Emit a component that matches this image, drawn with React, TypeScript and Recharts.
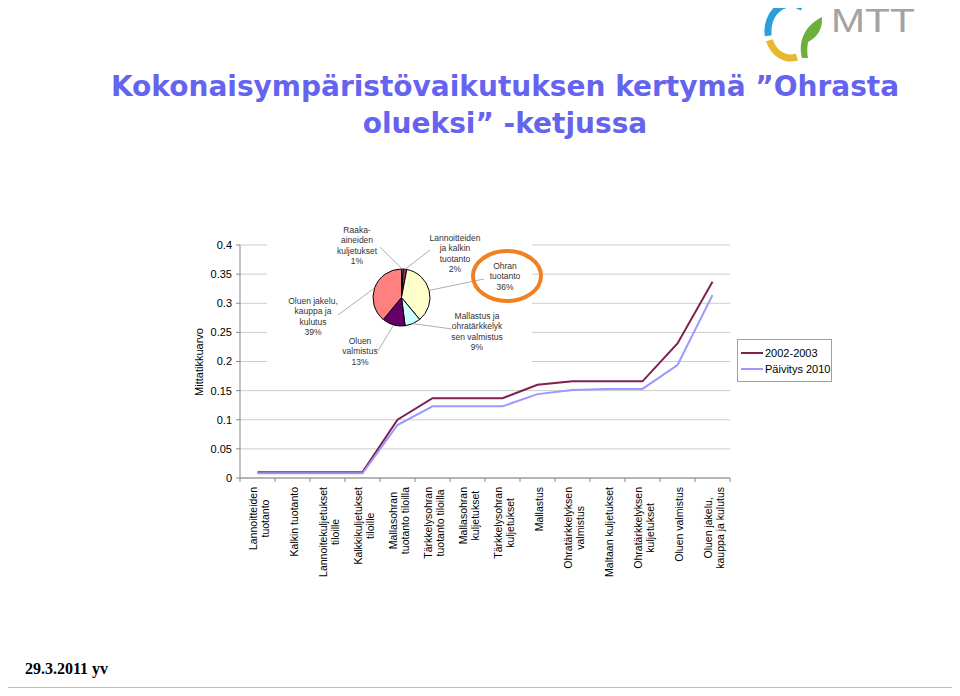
import React from 'react';
import {
  LineChart,
  Line,
  XAxis,
  YAxis,
  CartesianGrid,
  Legend,
  PieChart,
  Pie,
  Cell,
} from 'recharts';

// chain steps (x axis), cumulative impact per step
const steps = [
  'Lannoitteiden\ntuotanto',
  'Kalkin tuotanto',
  'Lannoitekuljetukset\ntiloille',
  'Kalkkikuljetukset\ntiloille',
  'Mallasohran\ntuotanto tiloilla',
  'Tärkkelysohran\ntuotanto tiloilla',
  'Mallasohran\nkuljetukset',
  'Tärkkelysohran\nkuljetukset',
  'Mallastus',
  'Ohratärkkelyksen\nvalmistus',
  'Maltaan kuljetukset',
  'Ohratärkkelyksen\nkuljetukset',
  'Oluen valmistus',
  'Oluen jakelu,\nkauppa ja kulutus',
];
const values2002 = [0.01, 0.01, 0.01, 0.01, 0.1, 0.137, 0.137, 0.137, 0.16, 0.166, 0.166, 0.166, 0.231, 0.337];
const values2010 = [0.008, 0.008, 0.008, 0.008, 0.091, 0.123, 0.123, 0.123, 0.144, 0.151, 0.153, 0.153, 0.194, 0.314];
const yTicks = [0, 0.05, 0.1, 0.15, 0.2, 0.25, 0.3, 0.35, 0.4];

// share of total impact (pie)
const pieNames = [
  'Raaka-\naineiden\nkuljetukset',
  'Lannoitteiden\nja kalkin\ntuotanto',
  'Ohran\ntuotanto',
  'Mallastus ja\nohratärkkelyk\nsen valmistus',
  'Oluen\nvalmistus',
  'Oluen jakelu,\nkauppa ja\nkulutus',
];
const pieValues = [1, 2, 36, 9, 13, 39];
const pieColors = ['#9999FF', '#993366', '#FFFFCC', '#CCFFFF', '#660066', '#FF8080'];

const rows = steps.map((s, i) => ({ name: s, v2002: values2002[i], v2010: values2010[i] }));
const pieData = pieNames.map((n, i) => ({ name: n, value: pieValues[i] }));

// pie box on the slide
const PIE_LEFT = 267;
const PIE_TOP = 225;
// label placement (slide coords): text centre x, first baseline, leader end
const pieLabelPos = [
  { x: 357, y: 233, lx: 380, ly: 247 },
  { x: 455, y: 241, lx: 430, ly: 250 },
  { x: 505, y: 269, lx: 484, ly: 279 },
  { x: 477, y: 319, lx: 452, ly: 329 },
  { x: 360, y: 344, lx: 378, ly: 351 },
  { x: 313, y: 304, lx: 338, ly: 315 },
];

const AXIS = '#868686';
const PLOT_W = 490;
const BAND = PLOT_W / steps.length;

let measureCtx: CanvasRenderingContext2D | null = null;
function textWidth(s: string, font: string) {
  if (!measureCtx) measureCtx = document.createElement('canvas').getContext('2d');
  if (!measureCtx) return s.length * 5.5;
  measureCtx.font = font;
  return measureCtx.measureText(s).width;
}

const X_FONT = '10.5px "Liberation Sans"';

function XTick(props: any) {
  const { x, y, payload, index } = props;
  const lines: string[] = String(payload.value).split('\n');
  const longest = Math.max(...lines.map((l) => textWidth(l, X_FONT)));
  const midY = y + longest / 2;
  const axisY = y - 9;
  return (
    <g>
      <line x1={x - BAND / 2} x2={x - BAND / 2} y1={axisY} y2={axisY + 4} stroke={AXIS} />
      {index === steps.length - 1 && (
        <line x1={x + BAND / 2} x2={x + BAND / 2} y1={axisY} y2={axisY + 4} stroke={AXIS} />
      )}
      {lines.map((l, k) => (
        <text
          key={k}
          transform={`translate(${x + 5 + (k - (lines.length - 1) / 2) * 12},${midY}) rotate(-90)`}
          textAnchor="middle"
          fontSize={10.5}
          fontFamily="Liberation Sans"
          fill="#000"
        >
          {l}
        </text>
      ))}
    </g>
  );
}

function renderLegend(props: any) {
  const items = props.payload || [];
  return (
    <div
      style={{
        border: '1px solid #a0a0a0',
        background: '#fff',
        width: 90,
        padding: '5px 0 4px 3px',
        fontFamily: 'Liberation Sans',
        fontSize: 11,
        color: '#000',
      }}
    >
      {items.map((it: any, i: number) => (
        <div key={i} style={{ display: 'flex', alignItems: 'center', height: 16 }}>
          <span style={{ display: 'inline-block', width: 22, height: 2, background: it.color, marginRight: 2 }} />
          <span>{it.value}</span>
        </div>
      ))}
    </div>
  );
}

function renderPieLabel(props: any) {
  const { cx, cy, midAngle, outerRadius, index, value } = props;
  const pos = pieLabelPos[index];
  const rad = Math.PI / 180;
  const ax = cx + outerRadius * Math.cos(-midAngle * rad);
  const ay = cy + outerRadius * Math.sin(-midAngle * rad);
  const lines = pieNames[index].split('\n').concat(`${value}%`);
  return (
    <g>
      <line x1={ax} y1={ay} x2={pos.lx - PIE_LEFT} y2={pos.ly - PIE_TOP} stroke="#999" strokeWidth={0.8} />
      {lines.map((l, k) => (
        <text
          key={k}
          x={pos.x - PIE_LEFT}
          y={pos.y - PIE_TOP + k * 10.3}
          textAnchor="middle"
          fontSize={8.5}
          fontFamily="Liberation Sans"
          fill="#333"
        >
          {l}
        </text>
      ))}
    </g>
  );
}

export default function App() {
  return (
    <div
      style={{
        position: 'relative',
        width: 960,
        height: 696,
        margin: -8,
        background: '#fff',
        overflow: 'hidden',
        fontFamily: 'Liberation Sans',
      }}
    >
      {/* logo */}
      <svg width={200} height={65} style={{ position: 'absolute', left: 760, top: 0 }}>
        <path d="M 42.5 7.6 A 23 27 0 0 0 8.3 35.7" fill="none" stroke="#2A9FD8" strokeWidth={7} />
        <path d="M 9.4 40.2 A 23 27 0 0 0 37 57.1" fill="none" stroke="#E8B92F" strokeWidth={7} />
        <path d="M 42 58 C 38 42, 44 26, 62 17 C 63 30, 56 38, 48 42 C 47 48, 47 53, 48 58 Z" fill="#6DAF3A" />
        <text x={71} y={32} fontSize={34} fill="#a3a3a3" fontFamily="Liberation Sans" textLength={84} lengthAdjust="spacingAndGlyphs">
          MTT
        </text>
      </svg>

      {/* title */}
      <div
        style={{
          position: 'absolute',
          left: 45,
          top: 68,
          width: 920,
          textAlign: 'center',
          fontFamily: 'DejaVu Sans',
          fontWeight: 'bold',
          fontSize: 28,
          lineHeight: '37px',
          color: '#6464EE',
        }}
      >
        Kokonaisympäristövaikutuksen kertymä ”Ohrasta
        <br />
        olueksi” -ketjussa
      </div>

      <div style={{ position: 'absolute', left: 0, top: 0 }}>
        <LineChart width={960} height={696} data={rows} margin={{ top: 245, right: 230, left: 180, bottom: 118 }}>
          <CartesianGrid vertical={false} stroke="#cccccc" />
          <XAxis
            dataKey="name"
            interval={0}
            height={100}
            padding={{ left: BAND / 2, right: BAND / 2 }}
            tick={<XTick />}
            tickLine={false}
            tickSize={0}
            tickMargin={9}
            axisLine={{ stroke: AXIS }}
          />
          <YAxis
            domain={[0, 0.4]}
            ticks={yTicks}
            width={60}
            tickSize={4}
            tickMargin={4}
            tick={{ fontSize: 11, fill: '#000', fontFamily: 'Liberation Sans' }}
            tickLine={{ stroke: AXIS }}
            axisLine={{ stroke: AXIS }}
          />
          <Line type="linear" dataKey="v2002" name="2002-2003" stroke="#7F2050" strokeWidth={2} dot={false} isAnimationActive={false} />
          <Line type="linear" dataKey="v2010" name="Päivitys 2010" stroke="#9999FF" strokeWidth={2} dot={false} isAnimationActive={false} />
          <Legend
            content={renderLegend}
            layout="vertical"
            align="center"
            verticalAlign="middle"
            wrapperStyle={{ left: 737, top: 339, width: 94 }}
          />
        </LineChart>
      </div>

      {/* y axis title */}
      <div
        style={{
          position: 'absolute',
          left: 199,
          top: 362,
          transform: 'translate(-50%, -50%) rotate(-90deg)',
          fontSize: 11,
          whiteSpace: 'nowrap',
          color: '#000',
        }}
      >
        Mittatikkuarvo
      </div>

      {/* embedded pie */}
      <div style={{ position: 'absolute', left: PIE_LEFT, top: PIE_TOP, width: 265, height: 147, background: '#fff' }}>
        <PieChart width={265} height={147} margin={{ top: 0, right: 0, bottom: 0, left: 0 }}>
          <Pie
            data={pieData}
            dataKey="value"
            cx={134.5}
            cy={72.5}
            outerRadius={28.5}
            startAngle={90}
            endAngle={-270}
            stroke="#000"
            strokeWidth={1}
            label={renderPieLabel}
            labelLine={false}
            isAnimationActive={false}
          >
            {pieData.map((d, i) => (
              <Cell key={d.name} fill={pieColors[i]} />
            ))}
          </Pie>
        </PieChart>
      </div>

      {/* highlight */}
      <svg width={960} height={696} style={{ position: 'absolute', left: 0, top: 0, pointerEvents: 'none' }}>
        <ellipse cx={507} cy={276} rx={34} ry={25} fill="none" stroke="#F08020" strokeWidth={4} />
      </svg>

      {/* footer */}
      <div
        style={{
          position: 'absolute',
          left: 25,
          top: 660,
          fontFamily: 'Liberation Serif',
          fontWeight: 'bold',
          fontSize: 16,
          color: '#000',
        }}
      >
        29.3.2011 yv
      </div>
      <div style={{ position: 'absolute', left: 3, top: 687, width: 954, height: 7, background: '#C9D420' }} />
    </div>
  );
}
